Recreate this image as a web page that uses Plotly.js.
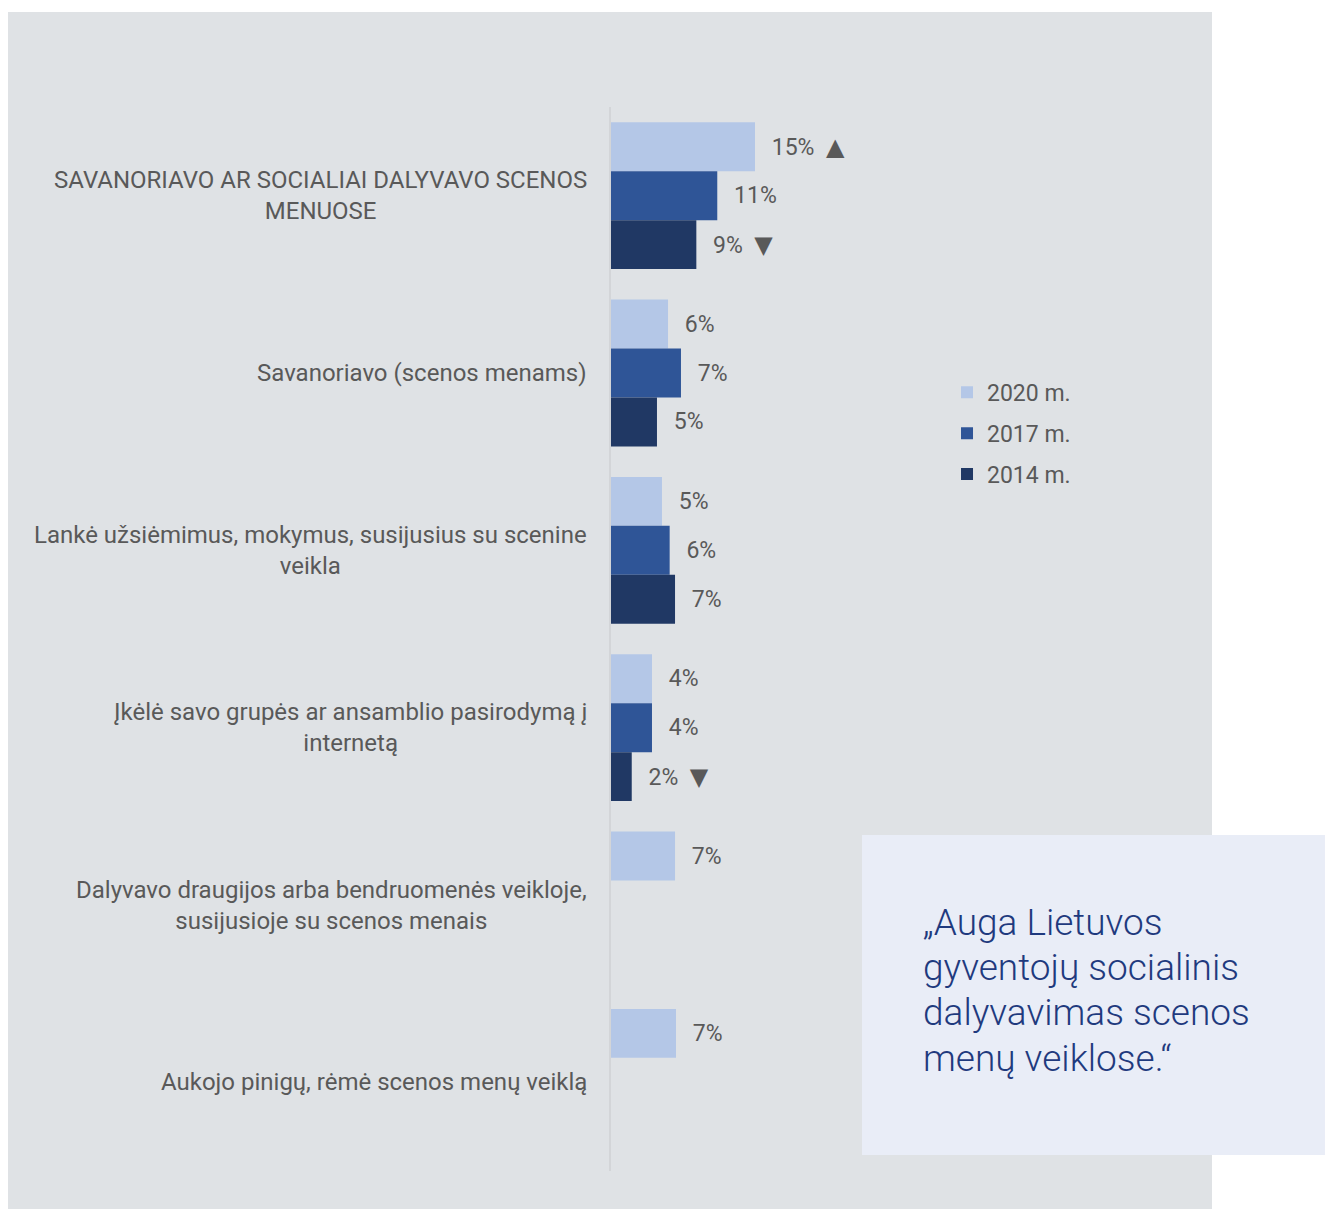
<!DOCTYPE html>
<html>
<head>
<meta charset="utf-8">
<script src="https://cdn.plot.ly/plotly-3.0.1.min.js"></script>
<style>html,body{margin:0;padding:0;background:#fff;}#chart{width:1325px;height:1209px;}</style>
</head>
<body>
<div id="chart"></div>
<script>
// ---- data ----
const categories = [
  "SAVANORIAVO AR SOCIALIAI DALYVAVO SCENOS MENUOSE",
  "Savanoriavo (scenos menams)",
  "Lankė užsiėmimus, mokymus, susijusius su scenine veikla",
  "Įkėlė savo grupės ar ansamblio pasirodymą į internetą",
  "Dalyvavo draugijos arba bendruomenės veikloje, susijusioje su scenos menais",
  "Aukojo pinigų, rėmė scenos menų veiklą"
];
const categoryLabels = [
  "SAVANORIAVO AR SOCIALIAI DALYVAVO SCENOS<br>MENUOSE",
  "Savanoriavo (scenos menams)",
  "Lankė užsiėmimus, mokymus, susijusius su scenine<br>veikla",
  "Įkėlė savo grupės ar ansamblio pasirodymą į<br>internetą",
  "Dalyvavo draugijos arba bendruomenės veikloje,<br>susijusioje su scenos menais",
  "Aukojo pinigų, rėmė scenos menų veiklą"
];
const seriesNames = ["2020 m.", "2017 m.", "2014 m."];
const values2020 = [15.0, 5.94, 5.31, 4.27, 6.67, 6.77];
const values2017 = [11.07, 7.29, 6.11, 4.27, null, null];
const values2014 = [8.89, 4.79, 6.67, 2.16, null, null];
const labels2020 = ["15% ▲", "6%", "5%", "4%", "7%", "7%"];
const labels2017 = ["11%", "7%", "6%", "4%", "", ""];
const labels2014 = ["9% ▼", "5%", "7%", "2% ▼", "", ""];
const quoteLines = ["„Auga Lietuvos", "gyventojų socialinis", "dalyvavimas scenos", "menų veiklose.“"];

// ---- styling ----
const colors = ["#b4c7e7", "#2f5597", "#203864"];
const textColor = "#595959";
const FONT = "Roboto, 'Open Sans', sans-serif";
const pad = "\u00a0\u00a0\u200a";
const triStyle = "font-family:'DejaVu Sans';font-size:24px";

function fmtLabel(t) {
  if (!t) return "";
  return pad + t.replace(/ ([▲▼])/g, '\u00a0\u00a0<span style="' + triStyle + '">$1</span>');
}

function mkTrace(name, vals, labs, color, grp) {
  return {
    type: "bar", orientation: "h", name: name,
    y: categories, x: vals,
    text: labs.map(fmtLabel),
    textposition: "outside", constraintext: "none", cliponaxis: false,
    textfont: {family: FONT, size: 23, color: textColor},
    marker: {color: color, line: {width: 0}},
    hoverinfo: "skip", legendgroup: grp
  };
}
const data = [
  mkTrace(seriesNames[0], values2020, labels2020, colors[0], "a"),
  mkTrace(seriesNames[1], values2017, labels2017, colors[1], "b"),
  mkTrace(seriesNames[2], values2014, labels2014, colors[2], "c")
];

const annotations = categories.map((c, i) => ({
  xref: "paper", yref: "y", x: 0, y: c, xanchor: "right", yanchor: "middle",
  xshift: -22, align: "center", showarrow: false, text: categoryLabels[i],
  font: {family: FONT, size: 24, color: textColor}
}));
const quoteY = [0.2340, 0.1917, 0.1494, 0.1062];
quoteLines.forEach((line, i) => annotations.push({
  xref: "paper", yref: "paper", x: 1.0764, y: quoteY[i], xanchor: "left", yanchor: "middle",
  align: "left", showarrow: false, text: line,
  font: {family: FONT, size: 37, color: "#1f3a7e", weight: 300}
}));

const layout = {
  width: 1325, height: 1209,
  margin: {l: 611, r: 426, t: 107, b: 38},
  paper_bgcolor: "#ffffff", plot_bgcolor: "rgba(0,0,0,0)",
  barmode: "group", bargap: 0.172, bargroupgap: 0,
  font: {family: FONT, color: textColor},
  xaxis: {range: [0, 30], visible: false, fixedrange: true},
  yaxis: {autorange: "reversed", showticklabels: false, ticks: "", showgrid: false,
          zeroline: false, showline: true, linecolor: "#d3d5d8", linewidth: 2, fixedrange: true},
  showlegend: true,
  legend: {x: 1.1667, y: 0.752, xanchor: "left", yanchor: "top", traceorder: "grouped",
           tracegroupgap: 8, bgcolor: "rgba(0,0,0,0)",
           font: {family: FONT, size: 23, color: textColor}},
  shapes: [
    {type: "rect", xref: "paper", yref: "paper", x0: -2.0938, x1: 2.0868, y0: -0.0357, y1: 1.0893,
     fillcolor: "#dfe2e5", line: {width: 0}, layer: "below"},
    {type: "rect", xref: "paper", yref: "paper", x0: 0.8715, x1: 2.479, y0: 0.0150, y1: 0.3158,
     fillcolor: "#e9edf7", line: {width: 0}, layer: "below"}
  ],
  annotations: annotations
};

Plotly.newPlot("chart", data, layout, {displayModeBar: false, staticPlot: true});
</script>
</body>
</html>
